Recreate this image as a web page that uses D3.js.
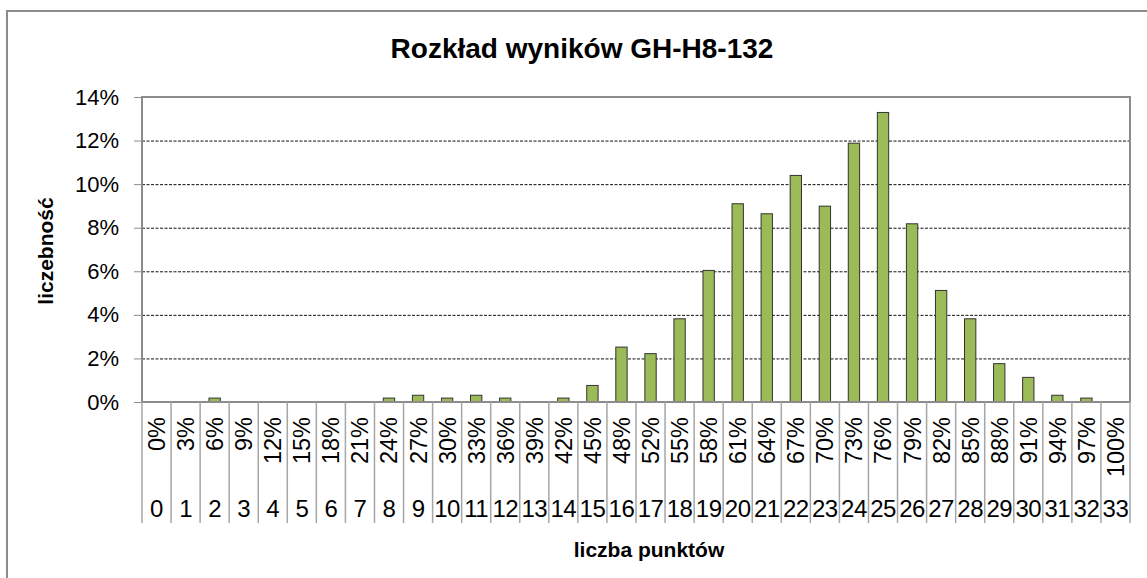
<!DOCTYPE html>
<html>
<head>
<meta charset="utf-8">
<script src="https://cdn.jsdelivr.net/npm/d3@7"></script>
<style>
  body { margin: 0; background: #fff; }
  text { font-family: Arial, "Liberation Sans", sans-serif; fill: #000; }
</style>
</head>
<body>
<div id="chart"></div>
<script>
// data
var points = ["0","1","2","3","4","5","6","7","8","9","10","11","12","13","14","15","16",
              "17","18","19","20","21","22","23","24","25","26","27","28","29","30","31","32","33"];
var percentLabels = ["0%","3%","6%","9%","12%","15%","18%","21%","24%","27%","30%","33%","36%",
                     "39%","42%","45%","48%","52%","55%","58%","61%","64%","67%","70%","73%","76%",
                     "79%","82%","85%","88%","91%","94%","97%","100%"];
var freq = [0, 0, 0.18, 0, 0, 0, 0, 0, 0.18, 0.31, 0.18, 0.31, 0.18, 0, 0.18, 0.76, 2.52,
            2.22, 3.82, 6.04, 9.10, 8.64, 10.40, 8.99, 11.88, 13.29, 8.18, 5.12, 3.82, 1.76,
            1.13, 0.31, 0.18, 0];
var yTicks = [0, 2, 4, 6, 8, 10, 12, 14];

var data = points.map(function(p, i) {
  return { pkt: p, proc: percentLabels[i], val: freq[i] };
});

var W = 1147, H = 578;
var margin = {top: 97, right: 17, bottom: 176, left: 142},
    width = W - margin.left - margin.right,
    height = H - margin.top - margin.bottom;

var svg = d3.select("#chart").append("svg")
    .attr("width", W)
    .attr("height", H);

// outer frame
svg.append("rect")
    .attr("x", 7).attr("y", 11)
    .attr("width", 1160).attr("height", 600)
    .attr("fill", "none")
    .attr("stroke", "#8c8c8c")
    .attr("stroke-width", 2);

svg.append("text")
    .attr("x", 582).attr("y", 58)
    .attr("text-anchor", "middle")
    .style("font-size", "28px")
    .style("font-weight", "bold")
    .text("Rozkład wyników GH-H8-132");

var g = svg.append("g")
    .attr("transform", "translate(" + margin.left + "," + margin.top + ")");

var x = d3.scaleBand()
    .domain(points)
    .range([0, width])
    .padding(0);

var y = d3.scaleLinear()
    .domain([0, 14])
    .range([height, 0]);

// gridlines
g.append("g")
    .attr("class", "grid")
    .call(d3.axisLeft(y).tickValues(yTicks.slice(1, -1)).tickSize(-width).tickFormat(""))
    .call(function(s) {
      s.select(".domain").remove();
      s.selectAll("line")
        .attr("stroke", "#111")
        .attr("stroke-dasharray", "3,1.5");
    });

// y axis
g.append("g")
    .call(d3.axisLeft(y).tickValues(yTicks).tickSize(8).tickPadding(15)
      .tickFormat(function(d) { return d + "%"; }))
    .call(function(s) {
      s.select(".domain").remove();
      s.selectAll("line").attr("stroke", "#8c8c8c");
      s.selectAll("text").style("font-size", "22px").attr("fill", "#000");
    });

// bars
var barW = x.bandwidth() * 0.39;
g.selectAll(".bar")
    .data(data.filter(function(d) { return d.val > 0; }))
  .enter().append("rect")
    .attr("class", "bar")
    .attr("x", function(d) { return x(d.pkt) + (x.bandwidth() - barW) / 2; })
    .attr("y", function(d) { return y(d.val); })
    .attr("width", barW)
    .attr("height", function(d) { return height - y(d.val); })
    .attr("fill", "#9bbb59")
    .attr("stroke", "#333")
    .attr("stroke-width", 1);

// plot frame
g.append("rect")
    .attr("x", 0).attr("y", 0)
    .attr("width", width).attr("height", height)
    .attr("fill", "none")
    .attr("stroke", "#8c8c8c")
    .attr("stroke-width", 2);

// category table below axis
var sepH = 121;
var xa = g.append("g").attr("transform", "translate(0," + height + ")");
xa.selectAll(".sep")
    .data(points.concat(["end"]))
  .enter().append("line")
    .attr("x1", function(d, i) { return i * x.bandwidth(); })
    .attr("x2", function(d, i) { return i * x.bandwidth(); })
    .attr("y1", 0).attr("y2", sepH)
    .attr("stroke", "#a6a6a6")
    .attr("stroke-width", 1.5);

xa.selectAll(".proc")
    .data(data)
  .enter().append("text")
    .attr("transform", function(d) {
      return "translate(" + (x(d.pkt) + x.bandwidth() / 2) + ",15) rotate(-90)";
    })
    .attr("dy", "0.36em")
    .attr("text-anchor", "end")
    .style("font-size", "23.5px")
    .text(function(d) { return d.proc; });

xa.selectAll(".pkt")
    .data(data)
  .enter().append("text")
    .attr("x", function(d) { return x(d.pkt) + x.bandwidth() / 2; })
    .attr("y", 115)
    .attr("text-anchor", "middle")
    .style("font-size", "24px")
    .style("letter-spacing", "-0.5px")
    .text(function(d) { return d.pkt; });

// axis titles
svg.append("text")
    .attr("x", 649).attr("y", 557)
    .attr("text-anchor", "middle")
    .style("font-size", "21px")
    .style("font-weight", "bold")
    .text("liczba punktów");

svg.append("text")
    .attr("transform", "translate(53,251) rotate(-90)")
    .attr("text-anchor", "middle")
    .style("font-size", "21px")
    .style("font-weight", "bold")
    .text("liczebność");
</script>
</body>
</html>
